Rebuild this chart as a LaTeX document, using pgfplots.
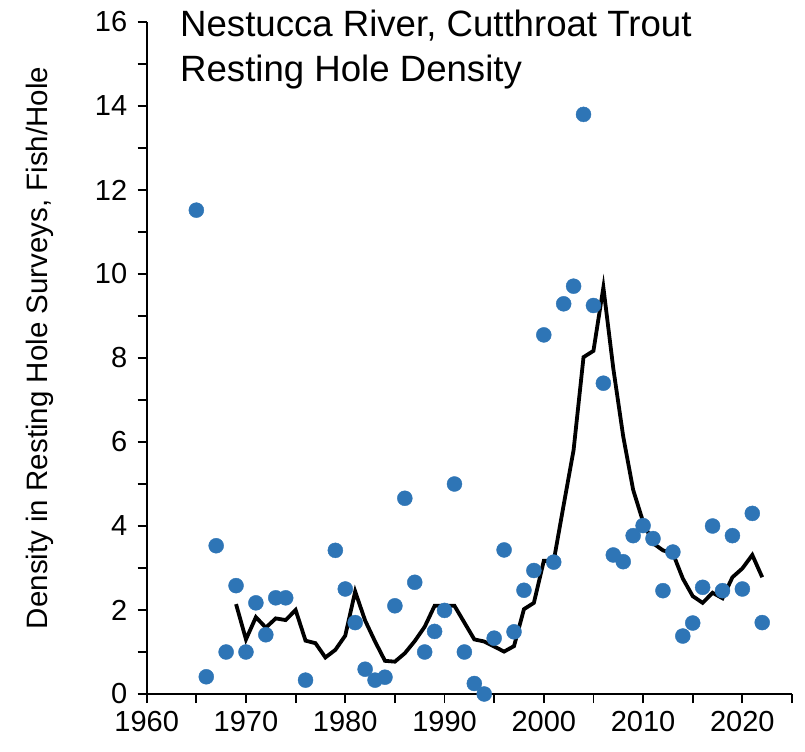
\documentclass[border=0pt]{standalone}
\usepackage{fontspec}
\setmainfont{Liberation Sans}
\usepackage{pgfplots}
\pgfplotsset{compat=1.18}
\definecolor{dotblue}{HTML}{2E75B6}

\pgfplotstableread{
year dens
1965 11.52
1966 0.41
1967 3.53
1968 1.00
1969 2.58
1970 1.00
1971 2.17
1972 1.41
1973 2.29
1974 2.29
1976 0.33
1979 3.42
1980 2.50
1981 1.70
1982 0.59
1983 0.33
1984 0.40
1985 2.10
1986 4.66
1987 2.66
1988 1.00
1989 1.49
1990 1.99
1991 5.00
1992 1.00
1993 0.25
1994 0.00
1995 1.33
1996 3.43
1997 1.48
1998 2.47
1999 2.94
2000 8.55
2001 3.14
2002 9.29
2003 9.71
2004 13.80
2005 9.25
2006 7.40
2007 3.31
2008 3.15
2009 3.77
2010 4.01
2011 3.70
2012 2.46
2013 3.38
2014 1.38
2015 1.69
2016 2.54
2017 4.00
2018 2.46
2019 3.77
2020 2.50
2021 4.30
2022 1.70
}\survey

\pgfplotstableread{
year avg
1969 2.14
1970 1.30
1971 1.83
1972 1.58
1973 1.80
1974 1.76
1975 2.00
1976 1.27
1977 1.21
1978 0.87
1979 1.05
1980 1.39
1981 2.44
1982 1.75
1983 1.25
1984 0.79
1985 0.77
1986 0.97
1987 1.26
1988 1.60
1989 2.10
1990 2.10
1991 2.10
1992 1.70
1993 1.30
1994 1.25
1995 1.13
1996 1.01
1997 1.14
1998 2.02
1999 2.17
2000 3.17
2001 3.17
2002 4.50
2003 5.81
2004 8.02
2005 8.17
2006 9.68
2007 7.75
2008 6.13
2009 4.86
2010 4.10
2011 3.59
2012 3.42
2013 3.35
2014 2.75
2015 2.33
2016 2.17
2017 2.41
2018 2.28
2019 2.78
2020 2.99
2021 3.31
2022 2.78
}\runavg

\begin{document}
\begin{tikzpicture}
\useasboundingbox (0,0) rectangle (805bp,752bp);
\begin{axis}[
    at={(146.7bp,58bp)}, anchor=south west,
    scale only axis,
    width=645.3bp, height=672bp,
    xmin=1960, xmax=2025,
    ymin=0, ymax=16,
    axis x line=bottom, axis y line=left,
    axis line style={line width=1.8bp, -},
    xtick={1960,1970,...,2020},
    minor xtick={1965,1975,...,2025},
    ytick={0,2,...,16},
    minor ytick={1,3,...,15},
    tick align=outside,
    major tick length=9bp, minor tick length=9bp,
    tick style={line width=1.8bp, black},
    xticklabel style={/pgf/number format/1000 sep={}, yshift=-5bp},
    yticklabel style={xshift=-7bp},
    /pgf/number format/assume math mode=true,
    ticklabel style={font=\fontsize{29bp}{32bp}\selectfont},
    ylabel={Density in Resting Hole Surveys, Fish/Hole},
    ylabel style={at={(axis description cs:-0.165,0.515)}, anchor=center, rotate=0,
        font=\fontsize{29.5bp}{32bp}\selectfont},
    clip=false,
]
\addplot[black, line width=3.8bp, no markers] table[x=year, y=avg] {\runavg};
\addplot[only marks, mark=*, mark size=7.5bp, mark options={fill=dotblue, draw=dotblue}] table[x=year, y=dens] {\survey};
\end{axis}
\node[anchor=base west, font=\fontsize{36.6bp}{40bp}\selectfont, inner sep=0pt] at (180bp,715bp) {Nestucca River, Cutthroat Trout};
\node[anchor=base west, font=\fontsize{36.6bp}{40bp}\selectfont, inner sep=0pt] at (180bp,670bp) {Resting Hole Density};
\end{tikzpicture}
\end{document}
